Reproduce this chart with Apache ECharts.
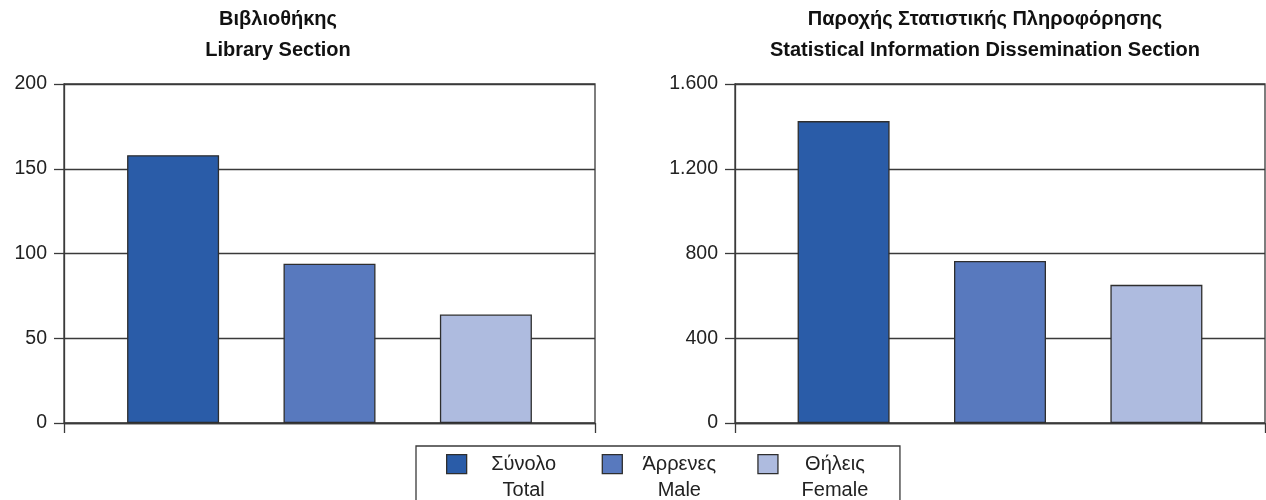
<!DOCTYPE html>
<html>
<head>
<meta charset="utf-8">
<script src="https://cdn.jsdelivr.net/npm/echarts@6/dist/echarts.min.js"></script>
<style>
html,body{margin:0;padding:0;background:#fff;}
#chart{width:1266px;height:500px;}
</style>
</head>
<body>
<div id="chart"></div>
<script>
const seriesNames = ['Σύνολο\nTotal', 'Άρρενες\nMale', 'Θήλεις\nFemale'];
const seriesColors = ['#2a5ca8', '#5879be', '#aebbdf'];
const libraryValues = [158, 94, 64];
const disseminationValues = [1425, 765, 652];
const panelTitles = ['Βιβλιοθήκης\nLibrary Section', 'Παροχής Στατιστικής Πληροφόρησης\nStatistical Information Dissemination Section'];
const yMax = [200, 1600];
const yInterval = [50, 400];

const FONT = '"Liberation Sans", Arial, Helvetica, sans-serif';
const LINE = '#3a3a3a';
const chart = echarts.init(document.getElementById('chart'));

function fmt(v) { return String(v).replace(/\B(?=(\d{3})+(?!\d))/g, '.'); }

function yAxis(i) {
  return {
    type: 'value', gridIndex: i, min: 0, max: yMax[i], interval: yInterval[i],
    axisLine: { show: true, lineStyle: { color: LINE, width: 1.3 } },
    axisTick: { show: true, length: 10, lineStyle: { color: LINE, width: 1.3 } },
    axisLabel: { color: '#222', fontSize: 19.5, fontFamily: FONT, margin: 17, formatter: fmt },
    splitLine: { show: true, lineStyle: { color: LINE, width: 1.3 } }
  };
}
function xAxis(i) {
  return {
    type: 'category', gridIndex: i, data: [''],
    axisLine: { show: true, lineStyle: { color: LINE, width: 1.3 } },
    axisTick: { show: true, length: 10, lineStyle: { color: LINE, width: 1.3 } },
    axisLabel: { show: false }
  };
}

const series = [];
[libraryValues, disseminationValues].forEach((vals, g) => {
  vals.forEach((v, k) => {
    series.push({
      type: 'bar', name: seriesNames[k], xAxisIndex: g, yAxisIndex: g,
      data: [v], barWidth: 92, barGap: '70%',
      itemStyle: { color: seriesColors[k], borderColor: '#2e2e2e', borderWidth: 1.3 }
    });
  });
});

chart.setOption({
  animation: false,
  backgroundColor: '#fff',
  grid: [
    { left: 64, right: 671, top: 84, bottom: 77, show: true, borderColor: LINE, borderWidth: 1.3 },
    { left: 735, right: 1, top: 84, bottom: 77, show: true, borderColor: LINE, borderWidth: 1.3 }
  ],
  xAxis: [xAxis(0), xAxis(1)],
  yAxis: [yAxis(0), yAxis(1)],
  legend: {
    left: 416, top: 446,
    data: seriesNames,
    itemWidth: 20, itemHeight: 19, itemGap: 38,
    padding: [8, 25, 30, 30],
    borderColor: LINE, borderWidth: 1.3,
    icon: 'rect',
    itemStyle: { borderColor: '#2e2e2e', borderWidth: 1.3 },
    formatter: function (n) {
      const p = n.split('\n');
      return '{a|' + p[0] + '}\n{a|' + p[1] + '}';
    },
    textStyle: {
      padding: [26, 0, 0, 12],
      rich: { a: { fontSize: 20, fontFamily: FONT, color: '#222', lineHeight: 26, width: 80, align: 'center' } }
    }
  },
  graphic: [
    { type: 'text', x: 278, y: 4, style: { text: panelTitles[0], textAlign: 'center', fill: '#111', font: 'bold 20px ' + FONT, lineHeight: 31 } },
    { type: 'text', x: 985, y: 4, style: { text: panelTitles[1], textAlign: 'center', fill: '#111', font: 'bold 20px ' + FONT, lineHeight: 31 } }
  ],
  series: series
});
</script>
</body>
</html>
